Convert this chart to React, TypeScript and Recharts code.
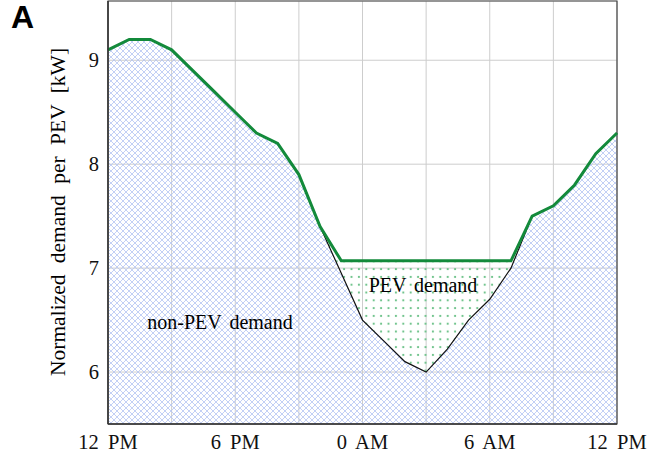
import {
  ComposedChart,
  Area,
  Line,
  XAxis,
  YAxis,
  CartesianGrid,
  ReferenceArea,
} from "recharts";

// hours after 12 PM
const hours = [0, 1, 2, 3, 4, 5, 6, 7, 8, 9, 10, 11, 12, 13, 14, 15, 16, 17, 18, 19, 20, 21, 22, 23, 24];
// total demand (non-PEV + PEV), kW
const totalDemand = [9.1, 9.2, 9.2, 9.1, 8.9, 8.7, 8.5, 8.3, 8.2, 7.9, 7.4, 7.07, 7.07, 7.07, 7.07, 7.07, 7.07, 7.07, 7.07, 7.07, 7.5, 7.6, 7.8, 8.1, 8.3];
// non-PEV demand, kW
const nonPevDemand = [9.1, 9.2, 9.2, 9.1, 8.9, 8.7, 8.5, 8.3, 8.2, 7.9, 7.4, 6.95, 6.5, 6.3, 6.1, 6.0, 6.22, 6.5, 6.7, 7.0, 7.5, 7.6, 7.8, 8.1, 8.3];

const xTicks = [0, 3, 6, 9, 12, 15, 18, 21, 24];
const xTickLabels: Record<number, string> = { 0: "12 PM", 6: "6 PM", 12: "0 AM", 18: "6 AM", 24: "12 PM" };
const yTicks = [6, 7, 8, 9];

const data = hours.map((h, i) => ({
  h,
  total: totalDemand[i],
  nonPev: nonPevDemand[i],
  pev: [nonPevDemand[i], totalDemand[i]],
}));

const SERIF = "'Liberation Serif', 'Times New Roman', serif";

function XTick(props: any) {
  const { x, y, payload } = props;
  const label = xTickLabels[payload.value] ?? "";
  if (!label) return null;
  return (
    <text x={x} y={y + 17} textAnchor="middle" fill="#111" fontFamily={SERIF} fontSize={20.5} wordSpacing={4}>
      {label}
    </text>
  );
}

function YTick(props: any) {
  const { x, y, payload } = props;
  return (
    <text x={x} y={y + 7} textAnchor="end" fill="#111" fontFamily={SERIF} fontSize={20.5}>
      {payload.value}
    </text>
  );
}

export default function App() {
  return (
    <div style={{ position: "absolute", left: 0, top: 0, width: 655, height: 457, background: "#fff" }}>
      <ComposedChart
        width={655}
        height={457}
        data={data}
        margin={{ top: 1, right: 38, left: 0, bottom: 0 }}
      >
        <defs>
          <pattern id="hatch" width="6" height="6" patternUnits="userSpaceOnUse">
            <path d="M0,0 L6,6 M6,0 L0,6" stroke="#b4c4f2" strokeWidth="0.8" fill="none" />
          </pattern>
          <pattern id="dots" width="7.4" height="7.8" patternUnits="userSpaceOnUse">
            <rect x="2.7" y="2.9" width="2" height="2" fill="#72c48e" />
          </pattern>
        </defs>
        <CartesianGrid stroke="#cdcdcd" strokeWidth={1} />
        <XAxis
          dataKey="h"
          type="number"
          domain={[0, 24]}
          ticks={xTicks}
          tick={<XTick />}
          tickLine={false}
          axisLine={{ stroke: "#333", strokeWidth: 1.5 }}
          height={33}
          interval={0}
        />
        <YAxis
          type="number"
          domain={[5.5, 9.57]}
          allowDataOverflow
          ticks={yTicks}
          tick={<YTick />}
          tickLine={false}
          axisLine={{ stroke: "#333", strokeWidth: 1.5 }}
          width={108}
          tickMargin={3}
        />
        <Area
          dataKey="nonPev"
          type="linear"
          fill="url(#hatch)"
          fillOpacity={1}
          stroke="none"
          isAnimationActive={false}
        />
        <Area
          dataKey="pev"
          type="linear"
          fill="url(#dots)"
          fillOpacity={1}
          stroke="none"
          isAnimationActive={false}
        />
        <Line dataKey="nonPev" type="linear" stroke="#111" strokeWidth={1.2} dot={false} isAnimationActive={false} />
        <Line dataKey="total" type="linear" stroke="#138a3b" strokeWidth={3} dot={false} isAnimationActive={false} />
        <ReferenceArea x1={0} x2={24} y1={5.5} y2={9.57} fill="none" stroke="#444" strokeWidth={1.2} />
      </ComposedChart>
      <div
        style={{
          position: "absolute",
          left: 11,
          top: 1,
          lineHeight: "33px",
          fontFamily: "'Liberation Sans', Arial, sans-serif",
          fontWeight: "bold",
          fontSize: 32,
        }}
      >
        A
      </div>
      <div
        style={{
          position: "absolute",
          left: 58,
          top: 212,
          transform: "translate(-50%, -50%) rotate(-90deg)",
          whiteSpace: "nowrap",
          fontFamily: SERIF,
          fontSize: 21.5,
          wordSpacing: 6,
        }}
      >
        Normalized demand per PEV [kW]
      </div>
      <div
        style={{
          position: "absolute",
          left: 220,
          top: 322,
          transform: "translate(-50%, -50%)",
          whiteSpace: "nowrap",
          fontFamily: SERIF,
          fontSize: 20,
          wordSpacing: 3,
        }}
      >
        non-PEV demand
      </div>
      <div
        style={{
          position: "absolute",
          left: 423,
          top: 285,
          transform: "translate(-50%, -50%)",
          whiteSpace: "nowrap",
          fontFamily: SERIF,
          fontSize: 20,
          wordSpacing: 3,
        }}
      >
        PEV demand
      </div>
    </div>
  );
}
